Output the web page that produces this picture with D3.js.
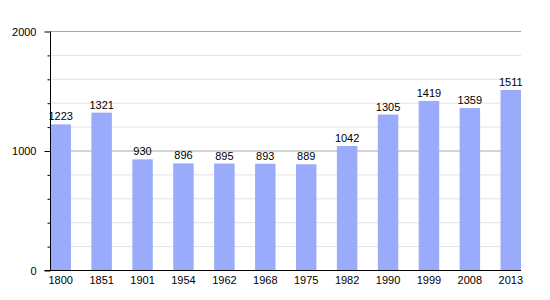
<!DOCTYPE html>
<html>
<head>
<meta charset="utf-8">
<script src="https://cdn.jsdelivr.net/npm/d3@7"></script>
<style>
  body { margin: 0; background: #fff; }
  text { font-family: "Liberation Sans", Arial, sans-serif; font-size: 11px; fill: #000; }
</style>
</head>
<body>
<div id="chart"></div>
<script>
// data
var years = ['1800', '1851', '1901', '1954', '1962', '1968', '1975', '1982', '1990', '1999', '2008', '2013'];
var population = [1223, 1321, 930, 896, 895, 893, 889, 1042, 1305, 1419, 1359, 1511];
var majorTicks = [0, 1000, 2000];
var minorTicks = [200, 400, 600, 800, 1200, 1400, 1600, 1800];

var svgWidth = 550;
var svgHeight = 300;

var svg = d3.select('#chart')
  .append('svg')
  .attr('width', svgWidth)
  .attr('height', svgHeight);

var left = 50.5;
var right = 521;

var y = d3.scaleLinear()
  .domain([0, 2000])
  .range([270.5, 31.5]);

var x = d3.scaleBand()
  .domain(years)
  .range([left, right])
  .paddingInner(0.5)
  .paddingOuter(0);

// grid lines
svg.selectAll('.minorGrid')
  .data(minorTicks)
  .enter()
  .append('line')
  .attr('x1', left)
  .attr('x2', right)
  .attr('y1', function(d) { return y(d); })
  .attr('y2', function(d) { return y(d); })
  .attr('stroke', '#e2e2e2');

svg.selectAll('.majorGrid')
  .data(majorTicks.slice(1))
  .enter()
  .append('line')
  .attr('x1', left)
  .attr('x2', right)
  .attr('y1', function(d) { return y(d); })
  .attr('y2', function(d) { return y(d); })
  .attr('stroke', '#a8a8a8');

// bars
svg.selectAll('.bar')
  .data(population)
  .enter()
  .append('rect')
  .attr('x', function(d, i) { return x(years[i]); })
  .attr('y', function(d) { return y(d); })
  .attr('width', x.bandwidth())
  .attr('height', function(d) { return y(0) - y(d); })
  .attr('fill', '#9aabfb');

// value labels
svg.selectAll('.valueLabel')
  .data(population)
  .enter()
  .append('text')
  .attr('x', function(d, i) { return x(years[i]) + x.bandwidth() / 2; })
  .attr('y', function(d) { return y(d) - 4; })
  .attr('text-anchor', 'middle')
  .text(function(d) { return d; });

// y axis with major and minor ticks
var leftAxis = d3.axisLeft(y)
  .tickValues(majorTicks)
  .tickFormat(d3.format('d'))
  .tickSize(6)
  .tickPadding(8);
var yAxis = svg.append('g')
  .attr('transform', 'translate(' + left + ',0)')
  .call(leftAxis);
yAxis.select('.domain').remove();

var minorAxis = d3.axisLeft(y)
  .tickValues(minorTicks)
  .tickSize(3)
  .tickFormat('');
var yMinor = svg.append('g')
  .attr('transform', 'translate(' + left + ',0)')
  .call(minorAxis);
yMinor.select('.domain').remove();

svg.append('line')
  .attr('x1', left)
  .attr('x2', left)
  .attr('y1', y(2000))
  .attr('y2', y(0))
  .attr('stroke', '#000');

// x axis
var bottomAxis = d3.axisBottom(x).tickSize(0).tickPadding(6);
var xAxis = svg.append('g')
  .attr('transform', 'translate(0,' + y(0) + ')')
  .call(bottomAxis);
xAxis.select('.domain').remove();

svg.append('line')
  .attr('x1', left - 6)
  .attr('x2', right)
  .attr('y1', y(0))
  .attr('y2', y(0))
  .attr('stroke', '#000');

svg.selectAll('.tick text')
  .style('font-family', '"Liberation Sans", Arial, sans-serif')
  .style('font-size', '11px')
  .attr('fill', '#000');
</script>
</body>
</html>
